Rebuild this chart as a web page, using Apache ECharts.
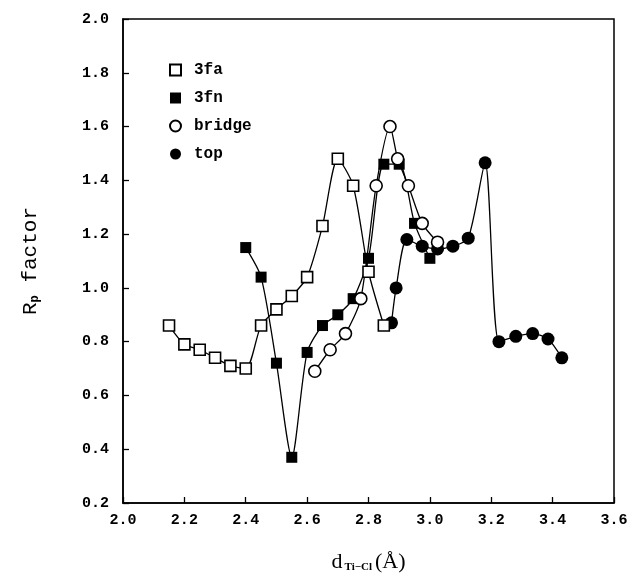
<!DOCTYPE html>
<html>
<head>
<meta charset="utf-8">
<script src="https://cdn.jsdelivr.net/npm/echarts@6/dist/echarts.min.js"></script>
<style>
  html, body { margin: 0; padding: 0; background: #fff; }
  #chart { width: 632px; height: 588px; }
</style>
</head>
<body>
<div id="chart"></div>
<script>
// d(Ti-Cl) in Å, Rp factor
const fa3X = [2.15, 2.20, 2.25, 2.30, 2.35, 2.40, 2.45, 2.50, 2.55, 2.60, 2.65, 2.70, 2.75, 2.80, 2.85];
const fa3Y = [0.86, 0.79, 0.77, 0.74, 0.71, 0.70, 0.86, 0.92, 0.97, 1.04, 1.23, 1.48, 1.38, 1.06, 0.86];

const fn3X = [2.40, 2.45, 2.50, 2.55, 2.60, 2.65, 2.70, 2.75, 2.80, 2.85, 2.90, 2.95, 3.00];
const fn3Y = [1.15, 1.04, 0.72, 0.37, 0.76, 0.86, 0.90, 0.96, 1.11, 1.46, 1.46, 1.24, 1.11];

const bridgeX = [2.625, 2.675, 2.725, 2.775, 2.825, 2.87, 2.895, 2.93, 2.975, 3.025];
const bridgeY = [0.69, 0.77, 0.83, 0.96, 1.38, 1.60, 1.48, 1.38, 1.24, 1.17];

const topX = [2.875, 2.89, 2.925, 2.975, 3.025, 3.075, 3.125, 3.18, 3.225, 3.28, 3.335, 3.385, 3.43];
const topY = [0.87, 1.00, 1.18, 1.155, 1.145, 1.155, 1.185, 1.465, 0.80, 0.82, 0.83, 0.81, 0.74];

const xTicks = [2.0, 3.6, 0.2];  // min, max, step
const yTicks = [0.2, 2.0, 0.2];

const font = '"Liberation Mono", "DejaVu Sans Mono", monospace';

function pairs(xs, ys) {
  return xs.map((x, i) => [x, ys[i]]);
}

function makeSeries(name, xs, ys, symbol, filled, size) {
  return {
    name: name,
    type: 'line',
    data: pairs(xs, ys),
    smooth: 0.25,
    symbol: symbol,
    symbolSize: size,
    showAllSymbol: true,
    lineStyle: { color: '#000', width: 1.3 },
    itemStyle: {
      color: filled ? '#000' : '#fff',
      borderColor: '#000',
      borderWidth: filled ? 0 : 1.6,
    },
    z: filled ? 3 : 4,
  };
}

const chart = echarts.init(document.getElementById('chart'));
chart.setOption({
  animation: false,
  backgroundColor: '#fff',
  grid: { left: 123, top: 19, right: 18, bottom: 85, show: true, borderColor: '#000', borderWidth: 1.5 },
  legend: {
    orient: 'vertical',
    left: 164,
    top: 57,
    itemGap: 12,
    itemWidth: 11,
    itemHeight: 11,
    textStyle: { fontFamily: font, fontWeight: 'bold', fontSize: 16, color: '#000', padding: [0, 0, 0, 8] },
    data: [
      { name: '3fa', icon: 'rect' },
      { name: '3fn', icon: 'rect' },
      { name: 'bridge', icon: 'circle' },
      { name: 'top', icon: 'circle' },
    ],
  },
  xAxis: {
    type: 'value',
    min: xTicks[0],
    max: xTicks[1],
    interval: xTicks[2],
    axisLine: { show: true, lineStyle: { color: '#000', width: 1.5 } },
    axisTick: { inside: true, length: 6, lineStyle: { color: '#000', width: 1.3 } },
    splitLine: { show: false },
    axisLabel: {
      color: '#000', fontFamily: font, fontWeight: 'bold', fontSize: 15, margin: 10,
      formatter: v => v.toFixed(1),
    },
    name: '{d|d}{s|Ti\u2212Cl}{d|(Å)}',
    nameLocation: 'middle',
    nameGap: 48,
    nameTextStyle: {
      rich: {
        d: { fontFamily: '"Liberation Serif", serif', fontSize: 22, color: '#000' },
        s: { fontFamily: '"Liberation Serif", serif', fontSize: 11, fontWeight: 'bold', color: '#000', padding: [10, 3, 0, 2] },
      },
    },
  },
  yAxis: {
    type: 'value',
    min: yTicks[0],
    max: yTicks[1],
    interval: yTicks[2],
    axisLine: { show: true, lineStyle: { color: '#000', width: 1.5 } },
    axisTick: { inside: true, length: 6, lineStyle: { color: '#000', width: 1.3 } },
    splitLine: { show: false },
    axisLabel: {
      color: '#000', fontFamily: font, fontWeight: 'bold', fontSize: 15, margin: 14,
      formatter: v => v.toFixed(1),
    },
    name: '{r|R}{s|p}{r| factor}',
    nameLocation: 'middle',
    nameRotate: 90,
    nameGap: 82,
    nameTextStyle: {
      rich: {
        r: { fontFamily: font, fontSize: 21, color: '#000' },
        s: { fontFamily: font, fontSize: 12, fontWeight: 'bold', color: '#000', padding: [8, 0, 0, 0] },
      },
    },
  },
  series: [
    makeSeries('3fa', fa3X, fa3Y, 'rect', false, 11),
    makeSeries('3fn', fn3X, fn3Y, 'rect', true, 11),
    makeSeries('bridge', bridgeX, bridgeY, 'circle', false, 12),
    makeSeries('top', topX, topY, 'circle', true, 13),
  ],
});
</script>
</body>
</html>
